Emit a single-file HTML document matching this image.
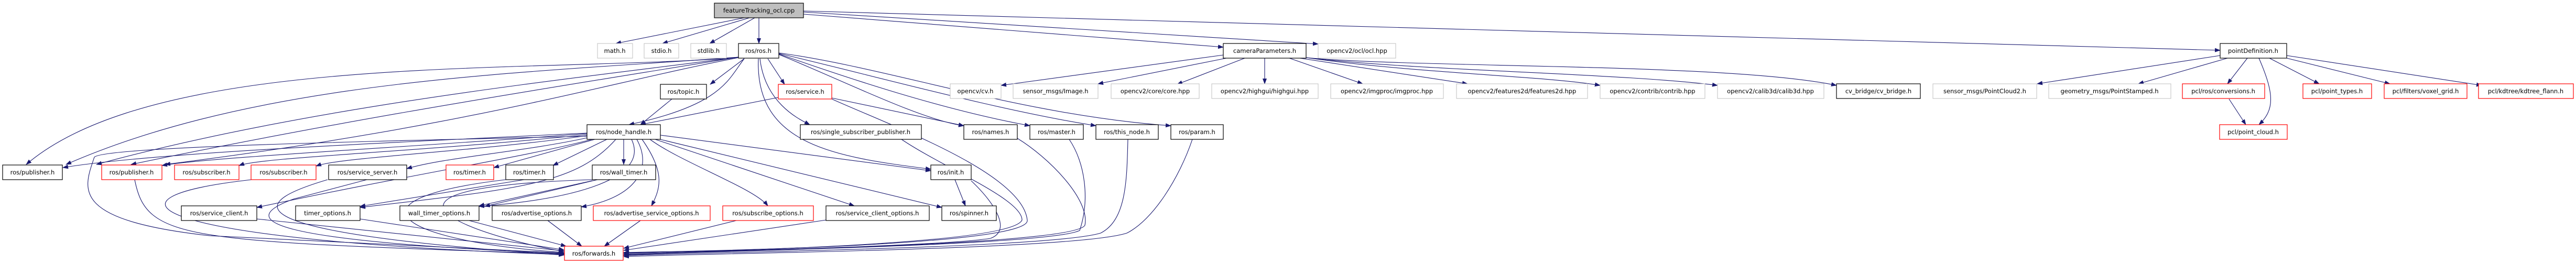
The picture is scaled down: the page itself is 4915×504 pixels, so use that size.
<!DOCTYPE html>
<html><head><meta charset="utf-8"><style>
html,body{margin:0;padding:0;background:#fff;}
svg{display:block;}
text{font-family:"DejaVu Sans","Liberation Sans",sans-serif;font-size:11.5px;fill:#000;text-anchor:middle;}
.e{fill:none;stroke:#191970;stroke-width:1.1;marker-end:url(#a);}
.b{fill:#fff;stroke:#000;stroke-width:1.2;}
.g{fill:#fff;stroke:#bfbfbf;stroke-width:1;}
.r{fill:#fff;stroke:#ff0000;stroke-width:1.2;}
</style></head><body>
<svg width="4915" height="504" viewBox="0 0 4915 504" xmlns="http://www.w3.org/2000/svg">
<defs><marker id="a" markerWidth="11" markerHeight="8" refX="10" refY="4" orient="auto" markerUnits="userSpaceOnUse"><path d="M0,0 L11,4 L0,8 z" fill="#191970"/></marker></defs>

<!-- edges from cpp -->
<path class="e" d="M1420 34 L1175 83"/>
<path class="e" d="M1430 34 L1264 83"/>
<path class="e" d="M1440 34 L1354 83"/>
<path class="e" d="M1448 34 L1448 83"/>
<path class="e" d="M1533 27 L2334 90"/>
<path class="e" d="M1533 23 L2515 84"/>
<path class="e" d="M1533 21 L4236 96"/>

<!-- ros/ros.h edges -->
<path class="e" d="M1409 110 C1000 140 300 100 50 314"/>
<path class="e" d="M1409 109 C1000 140 500 150 126 314"/>
<path class="e" d="M1409 109 C1100 150 600 200 184 314"/>
<path class="e" d="M1409 109 C1100 160 700 220 250 314"/>
<path class="e" d="M1409 110 C1150 160 900 240 315 314"/>
<path class="e" d="M1420 112 C1390 150 1380 200 1200 238"/>
<path class="e" d="M1420 112 L1355 161"/>
<path class="e" d="M1465 112 L1497 161"/>
<path class="e" d="M1450 112 C1460 200 1530 230 1545 238"/>
<path class="e" d="M1447 112 C1440 280 1600 300 1776 323"/>
<path class="e" d="M1486 104 C1600 150 1760 230 1839 240"/>
<path class="e" d="M1486 103 C1620 150 1800 210 1965 240"/>
<path class="e" d="M1486 102 C1650 140 1900 210 2091 240"/>
<path class="e" d="M1486 101 C1700 130 1950 220 2234 240"/>

<!-- topic/service -->
<path class="e" d="M1282 189 L1222 238"/>
<path class="e" d="M1485 186 L1222 238"/>
<path class="e" d="M1587 187 L1839 240"/>
<path class="e" d="M1587 189 C1700 240 1950 330 1960 420 C1970 470 1300 480 1190 482"/>

<!-- node_handle -->
<path class="e" d="M1120 254 C800 270 300 290 120 320"/>
<path class="e" d="M1120 255 C800 280 400 300 309 316"/>
<path class="e" d="M1120 257 C800 290 500 300 456 316"/>
<path class="e" d="M1120 259 C900 290 650 300 603 317"/>
<path class="e" d="M1125 262 C1000 290 850 300 776 322"/>
<path class="e" d="M1135 266 L942 320"/>
<path class="e" d="M1158 266 L1055 316"/>
<path class="e" d="M1190 266 L1190 314"/>
<path class="e" d="M1260 258 L1776 326"/>
<path class="e" d="M1130 266 C1000 300 800 330 490 396"/>
<path class="e" d="M1175 266 C1100 350 1000 360 687 396"/>
<path class="e" d="M1205 266 C1240 340 1100 380 914 394"/>
<path class="e" d="M1215 266 C1250 330 1200 380 1109 395"/>
<path class="e" d="M1225 266 C1270 330 1260 360 1243 393"/>
<path class="e" d="M1240 266 C1300 310 1440 360 1465 393"/>
<path class="e" d="M1250 266 L1630 393"/>
<path class="e" d="M1255 265 L1797 396"/>
<path class="e" d="M1120 260 C700 270 200 280 180 300 C160 360 130 420 400 450 L1076 483"/>

<!-- row4 to forwards -->
<path class="e" d="M257 343 C280 460 350 460 1076 485"/>
<path class="e" d="M480 343 C150 380 300 460 1076 486"/>
<path class="e" d="M625 343 C500 380 380 440 1076 487"/>
<path class="e" d="M700 343 L560 380 C450 420 500 460 1076 484"/>
<path class="e" d="M965 343 C650 380 750 460 1076 482"/>
<path class="e" d="M1130 343 C600 360 950 460 1076 480"/>
<path class="e" d="M1130 345 L914 393"/>
<path class="e" d="M1000 343 L687 394"/>
<path class="e" d="M1140 343 L925 394"/>

<!-- row5 to forwards -->
<path class="e" d="M490 418 L1076 479"/>
<path class="e" d="M687 418 L1076 477"/>
<path class="e" d="M895 421 L1080 470"/>
<path class="e" d="M1045 421 L1110 470"/>
<path class="e" d="M1222 421 L1153 470"/>
<path class="e" d="M1405 421 L1190 474"/>
<path class="e" d="M1576 420 L1190 478"/>

<!-- row3 to forwards -->
<path class="e" d="M1720 266 C1800 320 1950 380 1950 420 C1930 470 1300 480 1190 484"/>
<path class="e" d="M1941 264 C2000 300 2080 380 2070 430 C2050 470 1300 480 1190 486"/>
<path class="e" d="M2040 266 C2070 310 2080 380 2060 440 C2000 470 1300 480 1190 487"/>
<path class="e" d="M2152 266 C2150 340 2150 420 2100 445 C2000 475 1300 482 1190 488"/>
<path class="e" d="M2275 266 C2250 340 2200 420 2150 445 C2050 478 1300 484 1190 490"/>
<path class="e" d="M1853 345 C1900 390 1930 440 1890 455 C1800 470 1300 482 1190 483"/>
<path class="e" d="M1822 343 L1842 393"/>

<!-- cameraParameters -->
<path class="e" d="M2334 105 L1910 163"/>
<path class="e" d="M2340 111 L2095 160"/>
<path class="e" d="M2375 111 L2246 161"/>
<path class="e" d="M2413 111 L2413 160"/>
<path class="e" d="M2460 111 L2600 160"/>
<path class="e" d="M2480 111 L2800 160"/>
<path class="e" d="M2492 110 C2700 140 2950 145 3053 163"/>
<path class="e" d="M2492 110 C2700 135 3100 140 3277 163"/>
<path class="e" d="M2492 110 C2700 130 3300 120 3504 163"/>

<!-- pointDefinition -->
<path class="e" d="M4236 106 L3887 160"/>
<path class="e" d="M4250 111 L4080 160"/>
<path class="e" d="M4288 111 L4250 160"/>
<path class="e" d="M4310 111 C4340 180 4340 210 4310 238"/>
<path class="e" d="M4330 111 L4425 160"/>
<path class="e" d="M4363 111 L4560 160"/>
<path class="e" d="M4363 106 L4735 163"/>
<path class="e" d="M4253 189 L4285 238"/>

<!-- nodes -->
<rect x="1363" y="6" width="170" height="28" fill="#bfbfbf" stroke="#000" stroke-width="1.2"/><text x="1448" y="24">featureTracking_ocl.cpp</text>

<rect class="g" x="1140" y="83" width="67" height="28"/><text x="1173" y="101">math.h</text>
<rect class="g" x="1229" y="83" width="66" height="28"/><text x="1262" y="101">stdio.h</text>
<rect class="g" x="1318" y="83" width="68" height="28"/><text x="1352" y="101">stdlib.h</text>
<rect class="b" x="1409" y="83" width="77" height="28"/><text x="1447" y="101">ros/ros.h</text>
<rect class="b" x="2334" y="83" width="158" height="28"/><text x="2413" y="101">cameraParameters.h</text>
<rect class="g" x="2515" y="83" width="148" height="28"/><text x="2589" y="101">opencv2/ocl/ocl.hpp</text>
<rect class="b" x="4236" y="83" width="127" height="28"/><text x="4299" y="101">pointDefinition.h</text>

<rect class="b" x="1260" y="161" width="88" height="28"/><text x="1304" y="179">ros/topic.h</text>
<rect class="r" x="1485" y="161" width="102" height="28"/><text x="1536" y="179">ros/service.h</text>
<rect class="g" x="1813" y="160" width="97" height="28"/><text x="1861" y="178">opencv/cv.h</text>
<rect class="g" x="1933" y="160" width="162" height="28"/><text x="2014" y="178">sensor_msgs/Image.h</text>
<rect class="g" x="2120" y="160" width="168" height="28"/><text x="2204" y="178">opencv2/core/core.hpp</text>
<rect class="g" x="2312" y="160" width="203" height="28"/><text x="2413" y="178">opencv2/highgui/highgui.hpp</text>
<rect class="g" x="2539" y="160" width="215" height="28"/><text x="2646" y="178">opencv2/imgproc/imgproc.hpp</text>
<rect class="g" x="2779" y="160" width="250" height="28"/><text x="2904" y="178">opencv2/features2d/features2d.hpp</text>
<rect class="g" x="3053" y="160" width="200" height="28"/><text x="3153" y="178">opencv2/contrib/contrib.hpp</text>
<rect class="g" x="3277" y="160" width="203" height="28"/><text x="3378" y="178">opencv2/calib3d/calib3d.hpp</text>
<rect class="b" x="3504" y="160" width="160" height="28"/><text x="3584" y="178">cv_bridge/cv_bridge.h</text>
<rect class="g" x="3688" y="160" width="198" height="28"/><text x="3787" y="178">sensor_msgs/PointCloud2.h</text>
<rect class="g" x="3909" y="160" width="233" height="28"/><text x="4025" y="178">geometry_msgs/PointStamped.h</text>
<rect class="r" x="4164" y="160" width="157" height="28"/><text x="4242" y="178">pcl/ros/conversions.h</text>
<rect class="r" x="4394" y="160" width="131" height="28"/><text x="4459" y="178">pcl/point_types.h</text>
<rect class="r" x="4549" y="160" width="158" height="28"/><text x="4628" y="178">pcl/filters/voxel_grid.h</text>
<rect class="r" x="4729" y="160" width="181" height="28"/><text x="4819" y="178">pcl/kdtree/kdtree_flann.h</text>

<rect class="b" x="1120" y="238" width="140" height="28"/><text x="1190" y="256">ros/node_handle.h</text>
<rect class="b" x="1527" y="238" width="231" height="28"/><text x="1642" y="256">ros/single_subscriber_publisher.h</text>
<rect class="b" x="1839" y="238" width="102" height="28"/><text x="1890" y="256">ros/names.h</text>
<rect class="b" x="1965" y="238" width="102" height="28"/><text x="2016" y="256">ros/master.h</text>
<rect class="b" x="2091" y="238" width="119" height="28"/><text x="2150" y="256">ros/this_node.h</text>
<rect class="b" x="2234" y="238" width="100" height="28"/><text x="2284" y="256">ros/param.h</text>
<rect class="r" x="4235" y="238" width="129" height="28"/><text x="4299" y="256">pcl/point_cloud.h</text>

<rect class="b" x="5" y="315" width="114" height="28"/><text x="62" y="333">ros/publisher.h</text>
<rect class="r" x="194" y="315" width="115" height="28"/><text x="251" y="333">ros/publisher.h</text>
<rect class="r" x="333" y="315" width="123" height="28"/><text x="394" y="333">ros/subscriber.h</text>
<rect class="r" x="479" y="315" width="124" height="28"/><text x="541" y="333">ros/subscriber.h</text>
<rect class="b" x="627" y="315" width="149" height="28"/><text x="701" y="333">ros/service_server.h</text>
<rect class="r" x="851" y="315" width="91" height="28"/><text x="896" y="333">ros/timer.h</text>
<rect class="b" x="965" y="315" width="91" height="28"/><text x="1010" y="333">ros/timer.h</text>
<rect class="b" x="1130" y="315" width="121" height="28"/><text x="1190" y="333">ros/wall_timer.h</text>
<rect class="b" x="1776" y="315" width="77" height="28"/><text x="1814" y="333">ros/init.h</text>

<rect class="b" x="346" y="393" width="144" height="28"/><text x="418" y="411">ros/service_client.h</text>
<rect class="b" x="564" y="393" width="123" height="28"/><text x="625" y="411">timer_options.h</text>
<rect class="b" x="763" y="393" width="151" height="28"/><text x="838" y="411">wall_timer_options.h</text>
<rect class="b" x="939" y="393" width="170" height="28"/><text x="1024" y="411">ros/advertise_options.h</text>
<rect class="r" x="1132" y="393" width="223" height="28"/><text x="1243" y="411">ros/advertise_service_options.h</text>
<rect class="r" x="1379" y="393" width="173" height="28"/><text x="1465" y="411">ros/subscribe_options.h</text>
<rect class="b" x="1576" y="393" width="197" height="28"/><text x="1674" y="411">ros/service_client_options.h</text>
<rect class="b" x="1797" y="393" width="104" height="28"/><text x="1849" y="411">ros/spinner.h</text>

<rect class="r" x="1077" y="470" width="112" height="27"/><text x="1133" y="488">ros/forwards.h</text>
</svg>
</body></html>
